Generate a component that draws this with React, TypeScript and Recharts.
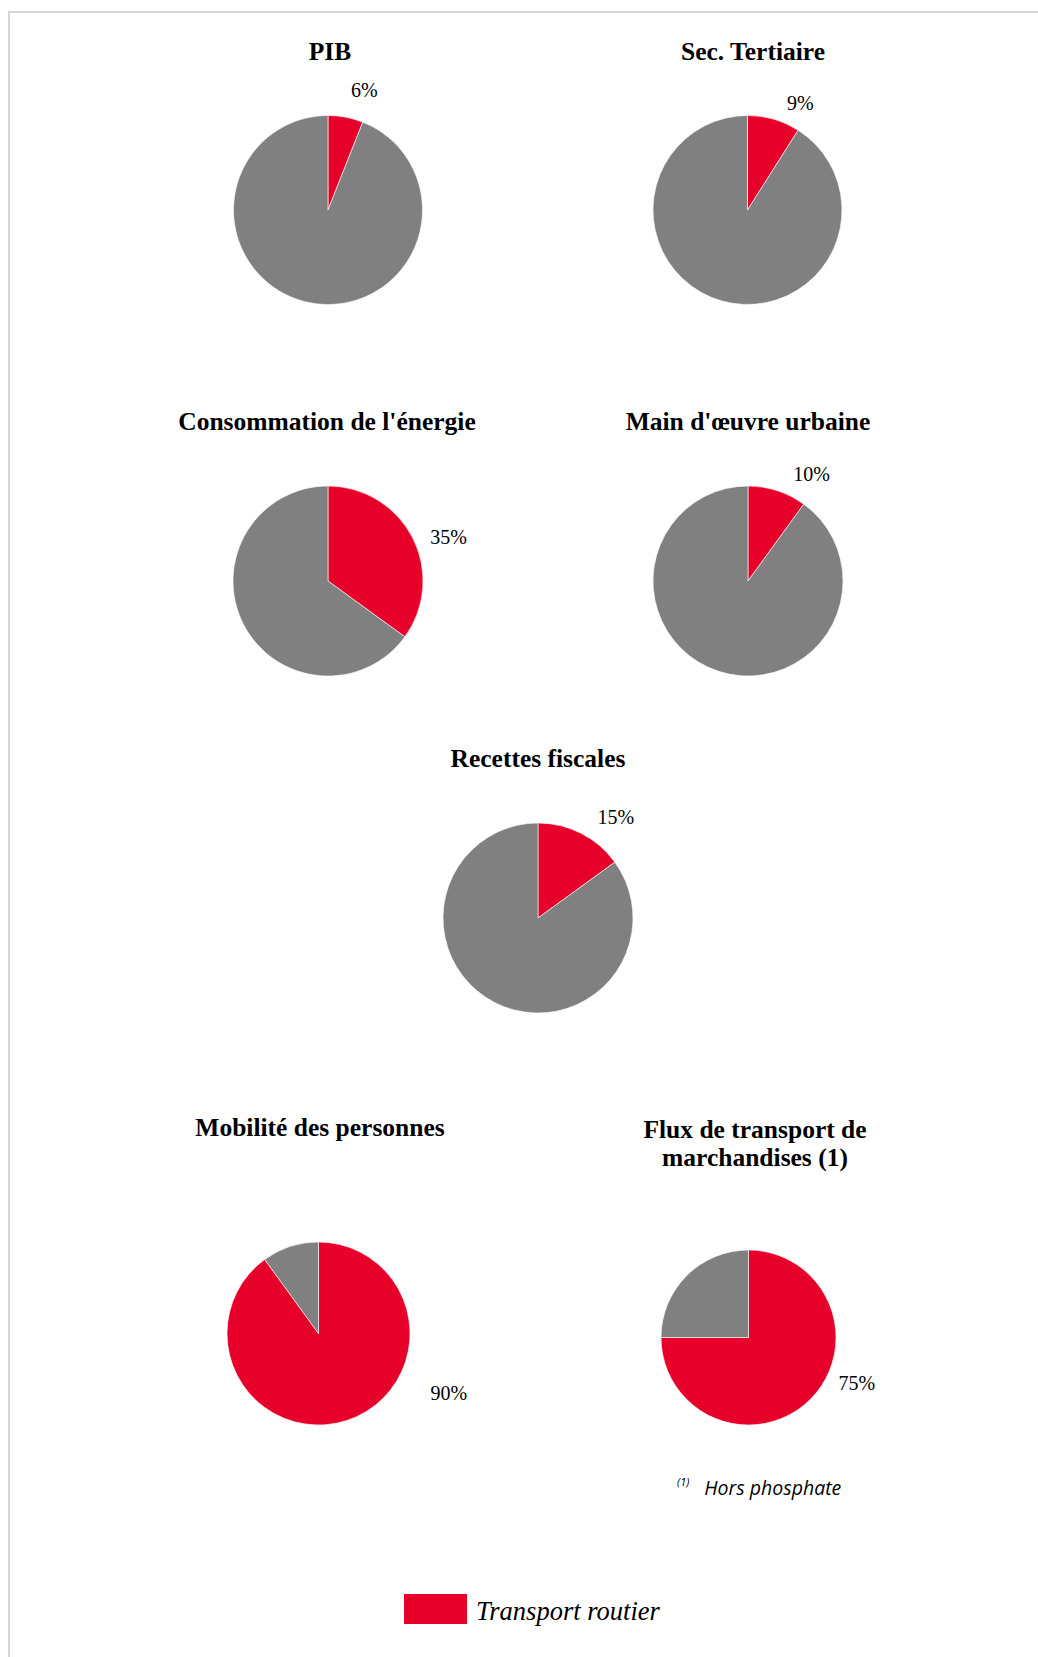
import React from 'react';
import { PieChart, Pie, Cell, Legend } from 'recharts';

// chart titles, one per pie
const categories = [
  'PIB',
  'Sec. Tertiaire',
  "Consommation de l'énergie",
  "Main d'œuvre urbaine",
  'Recettes fiscales',
  'Mobilité des personnes',
  'Flux de transport de\nmarchandises (1)',
];

// share of road transport (%)
const roadShare = [6, 9, 35, 10, 15, 90, 75];

const seriesNames = ['Transport routier', 'Autres'];
const footnoteMark = '(1)';
const footnoteText = 'Hors phosphate';

const RED = '#E6002A';
const GREY = '#808080';
const SERIF = '"Liberation Serif", "Times New Roman", serif';

// placement of each pie (centre, radius, title, label direction)
const layout = [
  { cx: 328, cy: 210, r: 94.5, tx: 330, ty: 52, la: 73, ld: 124 },
  { cx: 747.5, cy: 210, r: 94.5, tx: 753, ty: 52, la: 63.4, ld: 118 },
  { cx: 328, cy: 581, r: 95, tx: 327, ty: 421.5, la: 19.6, ld: 128 },
  { cx: 748, cy: 581, r: 95, tx: 748, ty: 421.5, la: 59, ld: 123.5 },
  { cx: 538, cy: 918, r: 95, tx: 538, ty: 758.5, la: 52, ld: 126.5 },
  { cx: 318.5, cy: 1333.5, r: 91.5, tx: 320, ty: 1128, la: -25.2, ld: 144 },
  { cx: 748.5, cy: 1337.5, r: 87.5, tx: 755, ty: 1130, la: -23.4, ld: 118 },
];

const W = 1038;
const H = 1657;

const makeLabel = (i: number) => (props: any) => {
  if (props.index !== 0) return null;
  const { la, ld } = layout[i];
  const rad = (la * Math.PI) / 180;
  const x = props.cx + ld * Math.cos(rad);
  const y = props.cy - ld * Math.sin(rad) - 1.5;
  return (
    <text
      x={x}
      y={y}
      textAnchor="middle"
      dominantBaseline="central"
      fontFamily={SERIF}
      fontSize={20}
      fill="#000"
    >
      {`${roadShare[i]}%`}
    </text>
  );
};

const LegendContent = (props: any) => {
  const item = (props.payload || []).find((p: any) => p.value === seriesNames[0]);
  return (
    <div style={{ display: 'flex', alignItems: 'center' }}>
      <div style={{ width: 63, height: 30, background: item ? item.color : RED }} />
      <span
        style={{
          marginLeft: 9,
          fontFamily: SERIF,
          fontStyle: 'italic',
          fontSize: 26.5,
          color: '#000',
          lineHeight: '30px',
          position: 'relative',
          top: 2,
        }}
      >
        {seriesNames[0]}
      </span>
    </div>
  );
};

export default function App() {
  return (
    <div
      style={{
        position: 'absolute',
        left: 0,
        top: 0,
        width: W,
        height: H,
        background: '#fff',
        overflow: 'hidden',
      }}
    >
      {/* frame */}
      <div
        style={{
          position: 'absolute',
          left: 8,
          top: 11,
          width: W,
          height: H,
          borderTop: '2px solid #d6d6d6',
          borderLeft: '2px solid #d6d6d6',
        }}
      />

      <div style={{ position: 'absolute', left: 0, top: 0 }}>
        <PieChart width={W} height={H} margin={{ top: 0, right: 0, bottom: 0, left: 0 }}>
          {layout.map((l, i) => (
            <Pie
              key={categories[i]}
              data={[
                { name: seriesNames[0], value: roadShare[i] },
                { name: seriesNames[1], value: 100 - roadShare[i] },
              ]}
              dataKey="value"
              nameKey="name"
              cx={l.cx}
              cy={l.cy}
              outerRadius={l.r}
              startAngle={90}
              endAngle={-270}
              stroke="#fff"
              strokeWidth={0.6}
              label={makeLabel(i)}
              labelLine={false}
              isAnimationActive={false}
            >
              <Cell fill={RED} />
              <Cell fill={GREY} />
            </Pie>
          ))}
          <Legend
            content={<LegendContent />}
            wrapperStyle={{ left: 404, top: 1594, width: 'auto' }}
          />
        </PieChart>
      </div>

      {/* titles */}
      {layout.map((l, i) => (
        <div
          key={'t' + i}
          style={{
            position: 'absolute',
            left: l.tx - 200,
            top: l.ty - 14,
            width: 400,
            textAlign: 'center',
            fontFamily: SERIF,
            fontWeight: 'bold',
            fontSize: 25.5,
            lineHeight: '28px',
            whiteSpace: 'pre-line',
            color: '#000',
          }}
        >
          {categories[i]}
        </div>
      ))}

      {/* footnote */}
      <div
        style={{
          position: 'absolute',
          left: 677,
          top: 1475,
          fontFamily: '"Open Sans", sans-serif',
          fontStyle: 'italic',
          color: '#000',
          whiteSpace: 'nowrap',
        }}
      >
        <span style={{ fontSize: 11, verticalAlign: 'top', lineHeight: '14px' }}>{footnoteMark}</span>
        <span style={{ fontSize: 19.5, marginLeft: 15, lineHeight: '26px' }}>{footnoteText}</span>
      </div>
    </div>
  );
}
